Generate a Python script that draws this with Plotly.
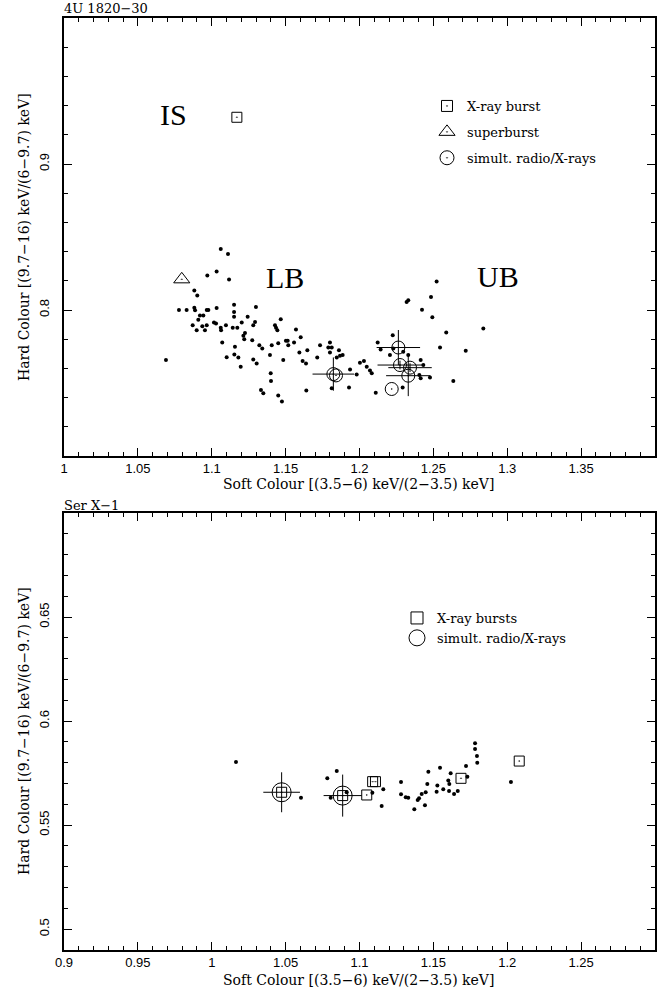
import plotly.graph_objects as go

# ---------------- 4U 1820-30 (top panel) ----------------
top_soft = [1.1061, 1.1110, 1.0970, 1.1033, 1.1117, 1.0882, 1.0902, 1.0778, 1.0830, 1.0882,
            1.0887, 1.0966, 1.0977, 1.1033, 1.1151, 1.1151, 1.1299, 1.0920, 1.0943, 1.0909,
            1.1151, 1.1243, 1.0871, 1.0936, 1.0966, 1.1015, 1.1029, 1.1203, 1.1293, 1.1281,
            1.1467, 1.0898, 1.0954, 1.1061, 1.1063, 1.1096, 1.1142, 1.1173, 1.1428, 1.1435,
            1.1444, 1.1570, 1.1225, 1.1214, 1.1220, 1.1274, 1.1071, 1.1502, 1.1514, 1.1518,
            1.1557, 1.1602, 1.1450, 1.1406, 1.1322, 1.1342, 1.1157, 1.1153, 1.1180, 1.1101,
            1.1196, 1.1394, 1.1484, 1.1281, 1.1304, 1.1593, 1.1647, 1.1615, 1.1638, 1.1714,
            1.1733, 1.1800, 1.1789, 1.1812, 1.1800, 1.1861, 1.1846, 1.1868, 1.1886, 1.1399,
            1.1401, 1.1333, 1.1349, 1.1450, 1.1475, 1.1640, 1.1812, 1.1929, 1.1936, 1.1981,
            1.2003, 1.2030, 1.2049, 1.0690,
            1.2522, 1.2484, 1.2330, 1.2319, 1.2423, 1.2493, 1.2587, 1.2838, 1.2545, 1.2719,
            1.2635, 1.2225, 1.2123, 1.2143, 1.2206, 1.2071, 1.2083, 1.2110, 1.2292, 1.2414,
            1.2432, 1.2405, 1.2414, 1.2477, 1.2229, 1.2296, 1.2330]
top_hard = [0.8418, 0.8384, 0.8236, 0.8263, 0.8209, 0.8134, 0.8100, 0.8000, 0.8000, 0.8016,
            0.7998, 0.8000, 0.8000, 0.8014, 0.8036, 0.7987, 0.8021, 0.7963, 0.7963, 0.7934,
            0.7953, 0.7953, 0.7895, 0.7888, 0.7895, 0.7914, 0.7907, 0.7914, 0.7918, 0.7895,
            0.7936, 0.7861, 0.7861, 0.7878, 0.7861, 0.7895, 0.7878, 0.7878, 0.7895, 0.7878,
            0.7861, 0.7866, 0.7843, 0.7823, 0.7800, 0.7793, 0.7777, 0.7789, 0.7789, 0.7759,
            0.7777, 0.7813, 0.7773, 0.7759, 0.7759, 0.7736, 0.7748, 0.7696, 0.7675, 0.7677,
            0.7612, 0.7691, 0.7657, 0.7661, 0.7634, 0.7709, 0.7725, 0.7650, 0.7634, 0.7675,
            0.7759, 0.7777, 0.7743, 0.7743, 0.7709, 0.7725, 0.7675, 0.7687, 0.7691, 0.7566,
            0.7514, 0.7452, 0.7430, 0.7414, 0.7373, 0.7448, 0.7464, 0.7469, 0.7593, 0.7559,
            0.7639, 0.7650, 0.7612, 0.7657,
            0.8195, 0.8089, 0.8066, 0.8055, 0.8002, 0.7950, 0.7846, 0.7873, 0.7743, 0.7721,
            0.7514, 0.7827, 0.7777, 0.7730, 0.7691, 0.7585, 0.7566, 0.7434, 0.7469, 0.7657,
            0.7623, 0.7554, 0.7532, 0.7537, 0.7736, 0.7714, 0.7691]

top_burst_soft = [1.117]
top_burst_hard = [0.932]
top_super_soft = [1.0797]
top_super_hard = [0.821]
top_radio_soft = [1.1823, 1.1841, 1.2263, 1.2274, 1.2342, 1.2330, 1.2218]
top_radio_hard = [0.7561, 0.7552, 0.7743, 0.7623, 0.7605, 0.7550, 0.7459]
top_radio_soft_err = [0.0141, 0.0, 0.0147, 0.0152, 0.0147, 0.0150, 0.0]
top_radio_hard_err = [0.0114, 0.0, 0.0120, 0.0030, 0.0030, 0.0140, 0.0]

top_x_ticks = [1.0, 1.05, 1.1, 1.15, 1.2, 1.25, 1.3, 1.35]
top_x_text = ["1", "1.05", "1.1", "1.15", "1.2", "1.25", "1.3", "1.35"]
top_y_ticks = [0.8, 0.9]
top_y_text = ["0.8", "0.9"]

# ---------------- Ser X-1 (bottom panel) ----------------
bot_soft = [1.0164, 1.0846, 1.0782, 1.0913, 1.0805, 1.0604, 1.1087, 1.1161, 1.1150, 1.1281,
            1.1281, 1.1313, 1.1330, 1.1394, 1.1403, 1.1421, 1.1448, 1.1371, 1.1443, 1.1466,
            1.1459, 1.1545, 1.1527, 1.1522, 1.1567, 1.1601, 1.1608, 1.1606, 1.1617, 1.1640,
            1.1665, 1.1721, 1.1730, 1.1797, 1.2025, 1.1782, 1.1782, 1.1795]
bot_hard = [0.5804, 0.5760, 0.5725, 0.5658, 0.5632, 0.5632, 0.5656, 0.5672, 0.5592, 0.5707,
            0.5648, 0.5634, 0.5632, 0.5621, 0.5629, 0.5650, 0.5658, 0.5576, 0.5596, 0.5757,
            0.5698, 0.5776, 0.5690, 0.5661, 0.5672, 0.5714, 0.5698, 0.5664, 0.5749, 0.5650,
            0.5664, 0.5784, 0.5733, 0.5800, 0.5707, 0.5894, 0.5866, 0.5832]

bot_burst_soft = [1.0473, 1.0886, 1.1089, 1.1108, 1.1049, 1.1687, 1.2081]
bot_burst_hard = [0.5658, 0.5642, 0.5709, 0.5709, 0.5645, 0.5725, 0.5808]
bot_radio_soft = [1.0473, 1.0886]
bot_radio_hard = [0.5658, 0.5642]
bot_radio_soft_err = [0.0124, 0.0129]
bot_radio_hard_err = [0.0096, 0.0101]

bot_x_ticks = [0.9, 0.95, 1.0, 1.05, 1.1, 1.15, 1.2, 1.25]
bot_x_text = ["0.9", "0.95", "1", "1.05", "1.1", "1.15", "1.2", "1.25"]
bot_y_ticks = [0.5, 0.55, 0.6, 0.65]
bot_y_text = ["0.5", "0.55", "0.6", "0.65"]

SERIF = "DejaVu Serif"
SANS = "Liberation Sans"
W, H = 664, 990

fig = go.Figure()

dot = dict(color="black", size=4, symbol="circle")
err_style = dict(type="data", thickness=1, width=0, color="black")

# top panel
fig.add_trace(go.Scatter(x=top_soft, y=top_hard, mode="markers", marker=dot,
                         showlegend=False, xaxis="x", yaxis="y"))
fig.add_trace(go.Scatter(x=top_burst_soft, y=top_burst_hard, mode="markers",
                         marker=dict(symbol="square-open-dot", size=10, color="black",
                                     line=dict(width=1)),
                         showlegend=False, xaxis="x", yaxis="y"))
fig.add_trace(go.Scatter(x=top_super_soft, y=top_super_hard, mode="markers",
                         marker=dict(symbol="triangle-up-open-dot", size=14, color="black",
                                     line=dict(width=1)),
                         showlegend=False, xaxis="x", yaxis="y"))
fig.add_trace(go.Scatter(x=top_radio_soft, y=top_radio_hard, mode="markers",
                         marker=dict(symbol="circle-open-dot", size=13, color="black",
                                     line=dict(width=1)),
                         error_x=dict(array=top_radio_soft_err, **err_style),
                         error_y=dict(array=top_radio_hard_err, **err_style),
                         showlegend=False, xaxis="x", yaxis="y"))
# top legend entries
for nm, sym, sz, grp in [("X-ray burst", "square-open-dot", 11, "a"),
                         ("superburst", "triangle-up-open-dot", 14, "b"),
                         ("simult. radio/X-rays", "circle-open-dot", 14, "c")]:
    fig.add_trace(go.Scatter(x=[None], y=[None], mode="markers", name=nm,
                             marker=dict(symbol=sym, size=sz, color="black", line=dict(width=1)),
                             legend="legend", legendgroup=grp, xaxis="x", yaxis="y"))

# bottom panel
fig.add_trace(go.Scatter(x=bot_soft, y=bot_hard, mode="markers", marker=dot,
                         showlegend=False, xaxis="x2", yaxis="y2"))
fig.add_trace(go.Scatter(x=bot_radio_soft, y=bot_radio_hard, mode="markers",
                         marker=dict(symbol="circle-open", size=19, color="black",
                                     line=dict(width=1)),
                         error_x=dict(array=bot_radio_soft_err, **err_style),
                         error_y=dict(array=bot_radio_hard_err, **err_style),
                         showlegend=False, xaxis="x2", yaxis="y2"))
fig.add_trace(go.Scatter(x=bot_burst_soft, y=bot_burst_hard, mode="markers",
                         marker=dict(symbol="square-open-dot", size=10, color="black",
                                     line=dict(width=1)),
                         showlegend=False, xaxis="x2", yaxis="y2"))
for nm, sym, sz, grp in [("X-ray bursts", "square-open", 12, "d"),
                         ("simult. radio/X-rays", "circle-open", 16, "e")]:
    fig.add_trace(go.Scatter(x=[None], y=[None], mode="markers", name=nm,
                             marker=dict(symbol=sym, size=sz, color="black", line=dict(width=1)),
                             legend="legend2", legendgroup=grp, xaxis="x2", yaxis="y2"))

xdom = [64 / W, 655 / W]
top_ydom = [1 - 456 / H, 1 - 18 / H]
bot_ydom = [1 - 950 / H, 1 - 513 / H]

def axis_common(minor_dtick):
    return dict(showline=True, linecolor="black", linewidth=1.5, mirror="ticks",
                ticks="inside", ticklen=8, tickwidth=1, tickcolor="black",
                showgrid=False, zeroline=False,
                minor=dict(dtick=minor_dtick, tick0=0, ticks="inside", ticklen=4,
                           tickcolor="black", tickwidth=1, showgrid=False),
                tickfont=dict(family=SANS, size=13, color="black"),
                automargin=False)

fig.update_layout(
    width=W, height=H,
    margin=dict(l=0, r=0, t=0, b=0),
    paper_bgcolor="white", plot_bgcolor="white",
    xaxis=dict(domain=xdom, range=[1.0, 1.4], anchor="y", tickmode="array",
               tickvals=top_x_ticks, ticktext=top_x_text, **axis_common(0.01)),
    yaxis=dict(domain=top_ydom, range=[0.7, 1.0], anchor="x", tickmode="array",
               tickvals=top_y_ticks, ticktext=top_y_text, tickangle=-90,
               ticklabelstandoff=8, **axis_common(0.02)),
    xaxis2=dict(domain=xdom, range=[0.9, 1.3], anchor="y2", tickmode="array",
                tickvals=bot_x_ticks, ticktext=bot_x_text, **axis_common(0.01)),
    yaxis2=dict(domain=bot_ydom, range=[0.49, 0.70], anchor="x2", tickmode="array",
                tickvals=bot_y_ticks, ticktext=bot_y_text, tickangle=-90,
                ticklabelstandoff=8, **axis_common(0.01)),
    legend=dict(x=427 / W, y=1 - 91 / H, xanchor="left", yanchor="top",
                bgcolor="rgba(0,0,0,0)", font=dict(family=SERIF, size=13, color="black"),
                traceorder="grouped", tracegroupgap=6, itemsizing="trace"),
    legend2=dict(x=397 / W, y=1 - 603 / H, xanchor="left", yanchor="top",
                 bgcolor="rgba(0,0,0,0)", font=dict(family=SERIF, size=13, color="black"),
                 traceorder="grouped", tracegroupgap=0, itemsizing="trace"),
    showlegend=True,
)

ann = []
def txt(text, x, y, size, family=SERIF, angle=0, xanchor="center", xref="paper", yref="paper"):
    ann.append(dict(text=text, x=x, y=y, xref=xref, yref=yref, showarrow=False,
                    xanchor=xanchor, yanchor="middle", textangle=angle,
                    font=dict(family=family, size=size, color="black")))

txt("4U 1820\u221230", 62 / W, 1 - 8.5 / H, 13, xanchor="left")
txt("Ser X\u22121", 62 / W, 1 - 506 / H, 13, xanchor="left")
xt = "Soft Colour [(3.5\u22126) keV/(2\u22123.5) keV]"
yt = "Hard Colour [(9.7\u221216) keV/(6\u22129.7) keV]"
txt(xt, 358 / W, 1 - 484 / H, 14)
txt(xt, 358 / W, 1 - 980 / H, 14)
txt(yt, 24 / W, 1 - 237 / H, 14, angle=-90)
txt(yt, 24 / W, 1 - 731 / H, 14, angle=-90)
# region labels in data coordinates of top panel
txt("IS", 1.0742, 0.9339, 30, family="Liberation Serif", xref="x", yref="y")
txt("LB", 1.1496, 0.8225, 30, family="Liberation Serif", xref="x", yref="y")
txt("UB", 1.2939, 0.8232, 30, family="Liberation Serif", xref="x", yref="y")
fig.update_layout(annotations=ann)

fig.write_html("out.html")
